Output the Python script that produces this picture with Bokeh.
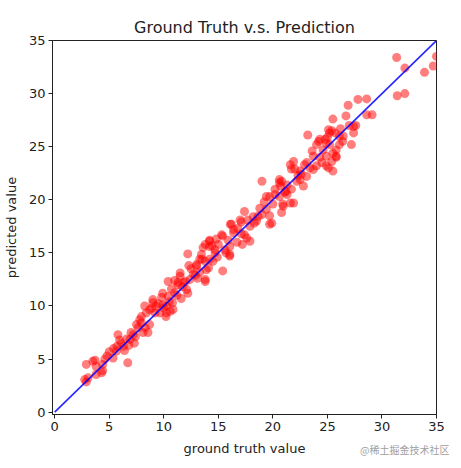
from bokeh.plotting import figure
from bokeh.models import FixedTicker, Range1d, Div
from bokeh.layouts import column
from bokeh.embed import file_html
from bokeh.resources import INLINE

# ground truth / predicted values
ground_truth = [
    2.75, 3.06, 2.9, 2.9, 3.5, 3.8, 3.7, 4.3, 3.8, 4.4, 4.6, 4.4, 5.0, 5.35, 5.7, 5.8, 5.95, 6.3, 6.7, 6.4,
    5.66, 6.1, 6.9, 7.0, 7.3, 7.4, 7.65, 7.95, 8.1, 8.3, 8.55, 7.95, 8.7, 8.4, 8.9, 9.2, 9.0, 6.6, 7.2, 7.8,
    5.4, 4.8, 6.8, 7.5, 8.25, 8.7,
    9.0, 9.3, 9.9, 10.25, 9.65, 10.4, 10.5, 10.85, 11.0, 11.3, 11.5, 11.6, 12.1, 12.4, 12.7, 13.0, 13.1, 13.45, 13.6, 13.8,
    13.9, 14.2, 14.4, 14.7, 14.8, 9.9, 11.5, 12.2, 11.8, 12.2, 13.3, 13.8, 14.2, 15.4, 9.8, 10.25, 10.2, 10.6, 10.0, 10.8,
    11.2, 11.3, 12.0, 13.8, 13.0, 14.1, 13.8, 14.2, 13.5, 12.5, 11.7, 10.7, 12.9, 13.3, 14.5, 14.9, 9.5, 10.4, 12.3, 11.0,
    15.4, 16.1, 16.05, 15.7, 16.4, 17.0, 17.4, 17.6, 17.2, 17.9, 18.65, 19.0, 19.7, 19.7, 19.4, 16.05, 16.4, 16.7, 17.1, 16.2,
    17.1, 17.7, 18.3, 15.3, 17.4, 17.9, 14.2, 15.6, 16.05, 14.7, 18.2, 19.0, 19.4, 20.0, 19.9, 20.2, 18.8, 15.0, 16.8, 18.5,
    19.2, 15.9,
    20.8, 20.6, 21.9, 21.6, 21.9, 21.2, 25.5, 25.8, 25.1, 23.7, 22.6, 20.6, 20.7, 23.4, 24.0, 23.7, 24.9, 25.8, 24.6, 24.9,
    25.4, 22.5, 22.8, 22.2, 21.3, 20.2, 20.9, 21.7, 22.3, 23.1, 24.0, 24.8, 26.1, 20.8, 21.3, 22.5, 23.1, 19.7, 20.6, 21.6,
    21.1, 20.95, 22.9, 24.5, 25.5, 21.7, 23.6, 24.3, 22.0,
    23.2, 24.3, 25.1, 25.2, 25.7, 25.8, 26.1, 27.2, 27.4, 27.4, 25.5, 26.7, 26.9, 27.8, 28.6, 28.6, 29.1, 31.35, 32.1, 31.4,
    32.1, 33.9, 34.7, 35.0, 24.2, 25.2, 26.4, 27.0, 25.4, 24.9, 26.45, 26.2, 25.0, 27.6,
]
predicted = [
    3.07, 3.24, 2.85, 4.5, 4.8, 4.3, 4.9, 3.7, 3.55, 4.5, 5.0, 3.9, 5.7, 5.1, 6.2, 7.3, 6.8, 6.2, 4.65, 5.8,
    5.75, 6.5, 6.85, 7.5, 6.5, 7.1, 7.95, 8.4, 7.5, 7.95, 7.5, 9.0, 8.25, 9.35, 9.8, 9.35, 10.3, 6.9, 7.3, 8.7,
    6.0, 5.3, 6.3, 8.25, 10.0, 9.65,
    10.6, 10.0, 10.1, 9.35, 9.35, 12.3, 10.4, 9.67, 11.25, 12.0, 12.8, 10.7, 11.55, 12.5, 13.0, 13.75, 12.6, 14.85, 15.5, 14.2,
    13.4, 14.4, 15.7, 15.0, 16.3, 11.2, 13.1, 14.9, 12.2, 11.2, 14.4, 12.5, 16.2, 13.3, 10.8, 10.0, 9.0, 9.5, 9.8, 10.3,
    11.0, 12.2, 12.3, 12.3, 13.9, 13.6, 15.8, 15.6, 14.4, 13.5, 11.8, 11.6, 12.9, 13.2, 14.2, 14.6, 10.2, 10.9, 13.8, 12.4,
    16.6, 17.7, 14.85, 15.0, 17.2, 18.1, 18.9, 16.4, 15.8, 17.5, 18.45, 21.75, 17.7, 18.5, 20.3, 15.6, 16.9, 16.0, 16.8, 17.7,
    17.9, 18.1, 17.8, 16.7, 16.7, 16.1, 16.1, 15.3, 14.7, 15.3, 18.4, 18.6, 19.1, 19.6, 17.8, 21.0, 19.2, 15.8, 17.3, 18.0,
    19.8, 16.2,
    18.8, 21.6, 19.7, 23.3, 23.6, 20.8, 22.7, 24.1, 23.0, 22.85, 22.4, 21.9, 21.3, 23.0, 23.2, 24.1, 23.2, 24.0, 24.7, 24.1,
    23.6, 22.7, 21.3, 21.75, 20.5, 20.5, 19.6, 21.0, 22.3, 23.5, 25.2, 25.7, 25.2, 21.75, 21.4, 21.9, 22.2, 20.3, 20.3, 19.7,
    20.7, 19.4, 23.3, 23.5, 24.4, 22.9, 24.6, 24.0, 22.9,
    26.1, 25.7, 26.6, 25.2, 26.3, 24.7, 26.0, 25.2, 26.3, 26.9, 27.6, 27.9, 28.9, 29.45, 29.5, 28.0, 28.0, 33.4, 32.4, 29.8,
    30.0, 32.0, 32.6, 33.5, 25.5, 26.3, 25.5, 27.0, 26.5, 25.3, 26.0, 26.7, 25.9, 27.0,
]
line_x = [0, 35]
line_y = [0, 35]
tick_values = [0, 5, 10, 15, 20, 25, 30, 35]
watermark = "@稀土掘金技术社区"

FONT = "DejaVu Sans"

p = figure(
    output_backend="svg", toolbar_location=None,
    frame_width=384, frame_height=374,
    x_range=Range1d(-0.2, 35), y_range=Range1d(-0.22, 35),
    title="Ground Truth v.s. Prediction",
    x_axis_label="ground truth value", y_axis_label="predicted value",
    min_border_left=50, min_border_right=14, min_border_top=40, min_border_bottom=44,
)
p.title.text_font = FONT
p.title.text_font_size = "16px"
p.title.text_font_style = "normal"
p.title.align = "center"
p.title.text_color = "#222222"
p.title.standoff = 8

p.grid.visible = False
p.outline_line_color = "#222222"
p.outline_line_width = 1
p.background_fill_color = "white"
p.border_fill_color = "white"

for ax in (p.xaxis[0], p.yaxis[0]):
    ax.ticker = FixedTicker(ticks=tick_values)
    ax.major_label_text_font = FONT
    ax.major_label_text_font_size = "13px"
    ax.major_label_text_color = "#222222"
    ax.axis_label_text_font = FONT
    ax.axis_label_text_font_size = "13px"
    ax.axis_label_text_font_style = "normal"
    ax.axis_label_text_color = "#222222"
    ax.major_tick_in = 0
    ax.major_tick_out = 4
    ax.minor_tick_line_color = None
    ax.axis_line_color = "#222222"
    ax.major_tick_line_color = "#222222"
    ax.major_label_standoff = 3
    ax.axis_label_standoff = 4
p.xaxis[0].axis_label_standoff = 7
p.yaxis[0].axis_label_standoff = 7

p.scatter(ground_truth, predicted, size=9, fill_color="red", fill_alpha=0.5,
          line_color=None)
p.line(line_x, line_y, line_color="blue", line_width=1.6, alpha=0.85)

wm = Div(text=watermark, margin=(-15, 0, 0, 360),
         styles={"font-family": "Noto Sans CJK SC", "font-size": "10px",
                 "color": "#a0a0a0", "position": "relative", "z-index": "10",
                 "line-height": "14px"})

layout = column(p, wm, spacing=0)
open("out.html", "w").write(file_html(layout, INLINE))
